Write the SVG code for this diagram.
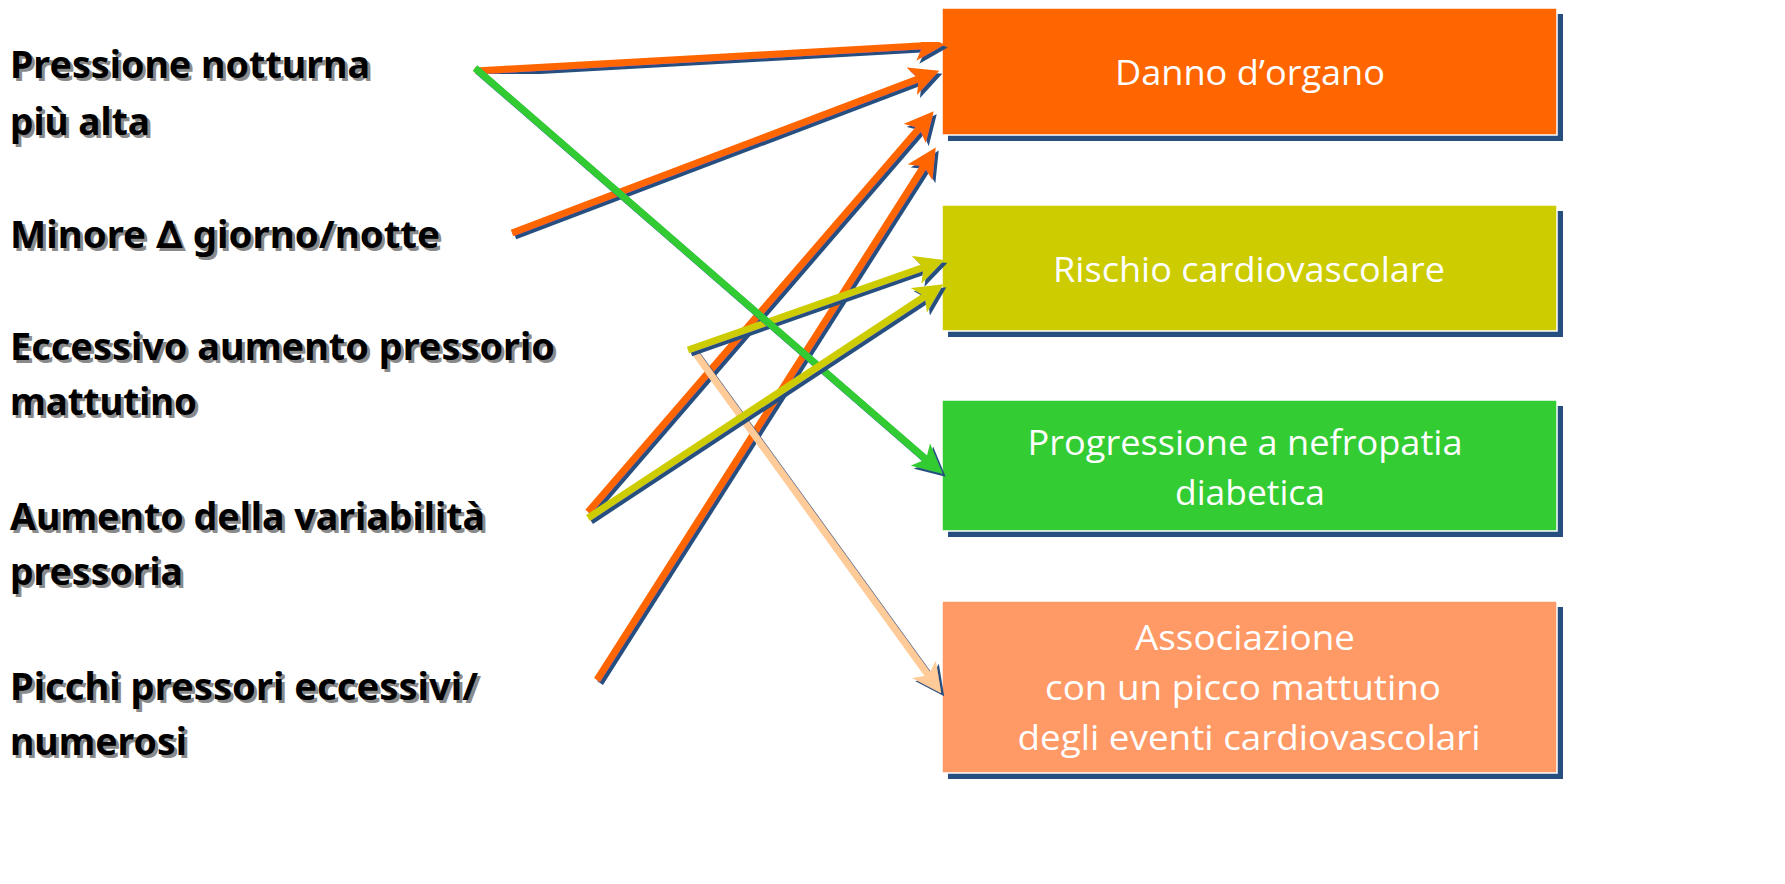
<svg xmlns="http://www.w3.org/2000/svg" width="1785" height="884" viewBox="0 0 1785 884">
<style>
.lbl{font-family:"Noto Sans","DejaVu Sans",sans-serif;font-weight:bold;font-size:38px}
.sh{fill:#8a8a8a}
.fg{fill:#000}
.bt{font-family:"Open Sans","Liberation Sans",sans-serif;font-size:34px;fill:#fff;text-anchor:middle}
.shadow{fill:#264F80}
.ln{stroke-width:7;fill:none;filter:url(#ds)}
</style>
<defs>
<filter id="ds" x="-10%" y="-10%" width="120%" height="120%">
<feDropShadow dx="3" dy="3" stdDeviation="0.6" flood-color="#264F80" flood-opacity="1"/>
</filter>
<marker id="aO" viewBox="0 0 10 10" refX="7" refY="5" markerWidth="4.2" markerHeight="4.2" orient="auto"><path d="M0,0 L10,5 L0,10 L2.5,5 z" fill="#FF6600"/></marker>
<marker id="aG" viewBox="0 0 10 10" refX="7" refY="5" markerWidth="4.2" markerHeight="4.2" orient="auto"><path d="M0,0 L10,5 L0,10 L2.5,5 z" fill="#33CC33"/></marker>
<marker id="aY" viewBox="0 0 10 10" refX="7" refY="5" markerWidth="4.2" markerHeight="4.2" orient="auto"><path d="M0,0 L10,5 L0,10 L2.5,5 z" fill="#CCCC00"/></marker>
<marker id="aP" viewBox="0 0 10 10" refX="7" refY="5" markerWidth="4.2" markerHeight="4.2" orient="auto"><path d="M0,0 L10,5 L0,10 L2.5,5 z" fill="#FFCC99"/></marker>
</defs>
<rect width="1785" height="884" fill="#fff"/>

<g id="src1">
<text class="lbl sh" x="13" y="81" textLength="360" lengthAdjust="spacingAndGlyphs">Pressione notturna</text>
<text class="lbl fg" x="10" y="78" textLength="360" lengthAdjust="spacingAndGlyphs">Pressione notturna</text>
<text class="lbl sh" x="13" y="138" textLength="140" lengthAdjust="spacingAndGlyphs">più alta</text>
<text class="lbl fg" x="10" y="135" textLength="140" lengthAdjust="spacingAndGlyphs">più alta</text>
</g>
<g id="src2">
<text class="lbl sh" x="13" y="251" textLength="430" lengthAdjust="spacingAndGlyphs">Minore ∆ giorno/notte</text>
<text class="lbl fg" x="10" y="248" textLength="430" lengthAdjust="spacingAndGlyphs">Minore ∆ giorno/notte</text>
</g>
<g id="src3">
<text class="lbl sh" x="13" y="363" textLength="545" lengthAdjust="spacingAndGlyphs">Eccessivo aumento pressorio</text>
<text class="lbl fg" x="10" y="360" textLength="545" lengthAdjust="spacingAndGlyphs">Eccessivo aumento pressorio</text>
<text class="lbl sh" x="13" y="418" textLength="187" lengthAdjust="spacingAndGlyphs">mattutino</text>
<text class="lbl fg" x="10" y="415" textLength="187" lengthAdjust="spacingAndGlyphs">mattutino</text>
</g>
<g id="src4">
<text class="lbl sh" x="13" y="533" textLength="475" lengthAdjust="spacingAndGlyphs">Aumento della variabilità</text>
<text class="lbl fg" x="10" y="530" textLength="475" lengthAdjust="spacingAndGlyphs">Aumento della variabilità</text>
<text class="lbl sh" x="13" y="588" textLength="173" lengthAdjust="spacingAndGlyphs">pressoria</text>
<text class="lbl fg" x="10" y="585" textLength="173" lengthAdjust="spacingAndGlyphs">pressoria</text>
</g>
<g id="src5">
<text class="lbl sh" x="13" y="703" textLength="468" lengthAdjust="spacingAndGlyphs">Picchi pressori eccessivi/</text>
<text class="lbl fg" x="10" y="700" textLength="468" lengthAdjust="spacingAndGlyphs">Picchi pressori eccessivi/</text>
<text class="lbl sh" x="13" y="758" textLength="177" lengthAdjust="spacingAndGlyphs">numerosi</text>
<text class="lbl fg" x="10" y="755" textLength="177" lengthAdjust="spacingAndGlyphs">numerosi</text>
</g>

<g id="box1">
<rect class="shadow" x="948" y="14" width="615" height="127"/>
<rect x="942" y="8" width="615" height="127" fill="#FF6600" stroke="#fff" stroke-width="1.5"/>
<text class="bt" x="1250" y="85" textLength="270" lengthAdjust="spacingAndGlyphs">Danno d’organo</text>
</g>
<g id="box2">
<rect class="shadow" x="948" y="211" width="615" height="126"/>
<rect x="942" y="205" width="615" height="126" fill="#CCCC00" stroke="#fff" stroke-width="1.5"/>
<text class="bt" x="1249" y="282" textLength="392" lengthAdjust="spacingAndGlyphs">Rischio cardiovascolare</text>
</g>
<g id="box3">
<rect class="shadow" x="948" y="406" width="615" height="131"/>
<rect x="942" y="400" width="615" height="131" fill="#33CC33" stroke="#fff" stroke-width="1.5"/>
<text class="bt" x="1245" y="455" textLength="435" lengthAdjust="spacingAndGlyphs">Progressione a nefropatia</text>
<text class="bt" x="1250" y="505" textLength="150" lengthAdjust="spacingAndGlyphs">diabetica</text>
</g>
<g id="box4">
<rect class="shadow" x="948" y="607" width="615" height="172"/>
<rect x="942" y="601" width="615" height="172" fill="#FF9966" stroke="#fff" stroke-width="1.5"/>
<text class="bt" x="1245" y="650" textLength="220" lengthAdjust="spacingAndGlyphs">Associazione</text>
<text class="bt" x="1243" y="700" textLength="396" lengthAdjust="spacingAndGlyphs">con un picco mattutino</text>
<text class="bt" x="1249" y="750" textLength="463" lengthAdjust="spacingAndGlyphs">degli eventi cardiovascolari</text>
</g>

<g id="connectors">
<line class="ln" stroke="#FF6600" x1="475" y1="71" x2="936" y2="45" marker-end="url(#aO)"/>
<line class="ln" stroke="#FF6600" x1="512" y1="233" x2="931" y2="74" marker-end="url(#aO)"/>
<line class="ln" stroke="#FF6600" x1="588" y1="512" x2="928" y2="118" marker-end="url(#aO)"/>
<line class="ln" stroke="#FF6600" x1="597" y1="680" x2="931" y2="155" marker-end="url(#aO)"/>
<line class="ln" stroke="#FFCC99" x1="693" y1="350" x2="936" y2="686" marker-end="url(#aP)"/>
<line class="ln" stroke="#CCCC00" x1="688" y1="350" x2="936" y2="263" marker-end="url(#aY)"/>
<line class="ln" stroke="#33CC33" x1="475" y1="68" x2="936" y2="468" marker-end="url(#aG)"/>
<line class="ln" stroke="#CCCC00" x1="588" y1="518" x2="936" y2="289" marker-end="url(#aY)"/>
</g>
</svg>
